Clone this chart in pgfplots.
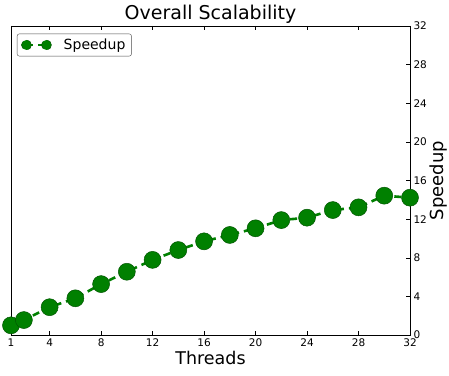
\documentclass[border=0pt]{standalone}
\usepackage{pgfplots}
\pgfplotsset{compat=1.18}
\usepackage{fontspec}
\setmainfont{DejaVu Sans}
\definecolor{mplgreen}{HTML}{008000}
\definecolor{edgegreen}{HTML}{005500}
\begin{document}
\begin{tikzpicture}[x=1pt,y=1pt]
\begin{axis}[
  name=main,
  scale only axis,
  width=399pt, height=309pt,
  xmin=1, xmax=32, ymin=0, ymax=32,
  xtick={1,4,8,12,16,20,24,28,32},
  ytick={0,4,8,12,16,20,24,28,32},
  xtick pos=both,
  ytick pos=right,
  yticklabel pos=right,
  ylabel near ticks,
  ylabel shift=-4pt,
  tick align=inside,
  major tick length=4pt,
  tick style={black, line width=0.5pt},
  axis line style={black, line width=0.8pt},
  ticklabel style={font=\fontsize{10.5}{12}\selectfont},
  /pgf/number format/assume math mode=true,
  title={Overall Scalability},
  title style={font=\fontsize{19}{22}\selectfont, yshift=-7pt},
  xlabel={Threads},
  xlabel style={font=\fontsize{17.5}{20}\selectfont, yshift=2pt},
  ylabel={Speedup},
  ylabel style={font=\fontsize{18}{20}\selectfont},
  legend style={font=\fontsize{14}{16}\selectfont, draw=black!70, rounded corners=2pt,
    at={(0.015,0.975)}, anchor=north west, inner xsep=4pt, inner ysep=3pt},
  legend cell align=left,
  legend image code/.code={
    \draw[mplgreen, line width=1.2pt] (0pt,0pt) -- (20pt,0pt);
    \fill[mplgreen, draw=edgegreen, line width=0.5pt] (0pt,0pt) circle (5pt);
    \fill[mplgreen, draw=edgegreen, line width=0.5pt] (20pt,0pt) circle (5pt);
    \path (34pt,0pt);
  },
  clip=false,
]
\addplot[color=mplgreen, line width=2.6pt, dash pattern=on 7pt off 5pt,
  mark=*, mark size=8.5pt,
  mark options={solid, fill=mplgreen, draw=edgegreen, line width=0.5pt}]
  coordinates {
  (1,1.0) (2,1.55) (4,2.88) (6,3.8) (8,5.27) (10,6.55) (12,7.78) (14,8.8)
  (16,9.7) (18,10.36) (20,11.05) (22,11.9) (24,12.15) (26,12.94)
  (28,13.22) (30,14.43) (32,14.22)
  };
\addlegendentry{Speedup}
\end{axis}
\pgfresetboundingbox
\path (main.south west) ++(-11pt,-40pt) coordinate (bl);
\path (main.north east) ++(39pt,26pt) coordinate (tr);
\path (bl) rectangle (tr);
\end{tikzpicture}
\end{document}
